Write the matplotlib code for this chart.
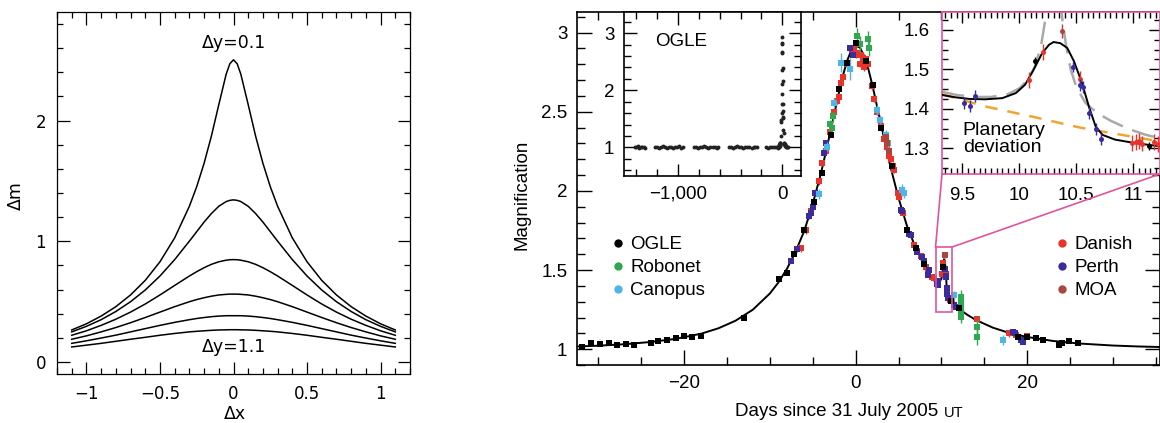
import matplotlib
matplotlib.use('Agg')
import matplotlib.pyplot as plt
from matplotlib.lines import Line2D
from matplotlib.patches import Rectangle, ConnectionPatch
from matplotlib.ticker import MultipleLocator, FuncFormatter

# ---- left panel: magnitude change vs offset, one curve per dy ----
DX = [-1.1, -1.0, -0.9, -0.8, -0.7, -0.6, -0.5, -0.4, -0.3, -0.25, -0.2,
      -0.15, -0.1, -0.05, -0.025, 0, 0.025, 0.05, 0.1, 0.15, 0.2, 0.25, 0.3,
      0.4, 0.5, 0.6, 0.7, 0.8, 0.9, 1.0, 1.1]
DM_Y01 = [0.265, 0.316, 0.380, 0.458, 0.555, 0.676, 0.830, 1.028, 1.290,
          1.453, 1.646, 1.873, 2.132, 2.384, 2.471, 2.504, 2.471, 2.384,
          2.132, 1.873, 1.646, 1.453, 1.290, 1.028, 0.830, 0.676, 0.555,
          0.458, 0.380, 0.316, 0.265]
DM_Y03 = [0.249, 0.295, 0.350, 0.418, 0.499, 0.596, 0.712, 0.848, 1.001,
          1.080, 1.159, 1.230, 1.290, 1.329, 1.339, 1.343, 1.339, 1.329,
          1.290, 1.230, 1.159, 1.080, 1.001, 0.848, 0.712, 0.596, 0.499,
          0.418, 0.350, 0.295, 0.249]
DM_Y05 = [0.221, 0.258, 0.303, 0.354, 0.413, 0.480, 0.555, 0.634, 0.712,
          0.748, 0.781, 0.809, 0.830, 0.843, 0.847, 0.848, 0.847, 0.843,
          0.830, 0.809, 0.781, 0.748, 0.712, 0.634, 0.555, 0.480, 0.413,
          0.354, 0.303, 0.258, 0.221]
DM_Y07 = [0.188, 0.216, 0.249, 0.285, 0.325, 0.368, 0.413, 0.458, 0.499,
          0.517, 0.532, 0.545, 0.555, 0.560, 0.562, 0.562, 0.562, 0.560,
          0.555, 0.545, 0.532, 0.517, 0.499, 0.458, 0.413, 0.368, 0.325,
          0.285, 0.249, 0.216, 0.188]
DM_Y09 = [0.154, 0.175, 0.198, 0.222, 0.249, 0.276, 0.303, 0.328, 0.350,
          0.360, 0.368, 0.375, 0.380, 0.383, 0.383, 0.383, 0.383, 0.383,
          0.380, 0.375, 0.368, 0.360, 0.350, 0.328, 0.303, 0.276, 0.249,
          0.222, 0.198, 0.175, 0.154]
DM_Y11 = [0.124, 0.139, 0.154, 0.171, 0.188, 0.204, 0.221, 0.236, 0.249,
          0.254, 0.258, 0.262, 0.265, 0.266, 0.267, 0.267, 0.267, 0.266,
          0.265, 0.262, 0.258, 0.254, 0.249, 0.236, 0.221, 0.204, 0.188,
          0.171, 0.154, 0.139, 0.124]
DM_CURVES = [DM_Y01, DM_Y03, DM_Y05, DM_Y07, DM_Y09, DM_Y11]

# ---- right panel: light curve ----
MODEL_DAYS = [-33, -30, -27, -24, -21, -18, -16, -14, -12, -10, -9, -8, -7,
              -6, -5, -4, -3, -2, -1.5, -1, -0.5, 0, 0.5, 1, 1.5, 2, 3, 4, 5,
              6, 7, 8, 9, 9.5, 9.8, 10.0, 10.1, 10.2, 10.3, 10.4, 10.5, 10.6,
              10.7, 10.85, 11.0, 12, 13, 14, 16, 18, 20, 23, 26, 30, 33, 36]
MODEL_MAG = [1.016, 1.022, 1.031, 1.045, 1.065, 1.098, 1.132, 1.180, 1.249,
             1.352, 1.422, 1.509, 1.617, 1.746, 1.918, 2.121, 2.359, 2.609,
             2.725, 2.821, 2.888, 2.917, 2.905, 2.852, 2.766, 2.657, 2.409,
             2.166, 1.956, 1.776, 1.641, 1.528, 1.438, 1.426, 1.427, 1.445,
             1.470, 1.530, 1.568, 1.560, 1.500, 1.410, 1.345, 1.320, 1.310,
             1.257, 1.218, 1.185, 1.136, 1.101, 1.077, 1.052, 1.036, 1.023,
             1.017, 1.013]

# planetary model, alternative model and single-lens fit (inset)
PLANET_DAYS = [9.32, 9.44, 9.56, 9.70, 9.85, 9.97, 10.05, 10.125, 10.2,
               10.26, 10.30, 10.36, 10.42, 10.48, 10.55, 10.61, 10.67, 10.73,
               10.84, 11.02, 11.24]
PLANET_MAG = [1.435, 1.429, 1.425, 1.424, 1.427, 1.440, 1.461, 1.499, 1.541,
              1.562, 1.569, 1.566, 1.554, 1.520, 1.465, 1.406, 1.355, 1.334,
              1.322, 1.313, 1.305]
ALT_DAYS = [9.32, 9.45, 9.6, 9.75, 9.9, 10.0, 10.08, 10.14, 10.19, 10.23,
            10.26, 10.29, 10.32, 10.35, 10.38, 10.41, 10.45, 10.5, 10.58,
            10.68, 10.8, 10.95, 11.1, 11.24]
ALT_MAG = [1.443, 1.435, 1.430, 1.430, 1.437, 1.452, 1.475, 1.51, 1.56, 1.63,
           1.72, 1.80, 1.78, 1.69, 1.62, 1.56, 1.50, 1.455, 1.415, 1.39, 1.37,
           1.35, 1.335, 1.325]
SINGLE_DAYS = [9.32, 9.7, 10.1, 10.54, 10.98, 11.24]
SINGLE_MAG = [1.437, 1.406, 1.381, 1.352, 1.330, 1.317]

OGLE_DAYS = [-31.9, -30.9, -29.8, -28.8, -27.8, -26.8, -25.9, -23.9, -23.0,
             -22.0, -21.0, -20.0, -19.1, -18.0, -13.0, -8.9, -8.0, -7.2, -6.0,
             -4.9, -3.9, -2.9, -1.9, -0.97, 0.0, 1.17, 2.06, 3.0, 4.2, 6.0,
             7.0, 8.0, 10.135, 11.135, 12.1, 18.9, 20.0, 21.0, 21.8, 23.7,
             24.1, 24.9, 25.9]
OGLE_MAG = [1.015, 1.036, 1.032, 1.040, 1.025, 1.032, 1.025, 1.040, 1.053,
            1.061, 1.068, 1.082, 1.074, 1.082, 1.200, 1.441, 1.479, 1.600,
            1.753, 1.932, 2.110, 2.354, 2.644, 2.810, 2.935, 2.820, 2.670,
            2.397, 2.154, 1.753, 1.637, 1.540, 1.522, 1.307, 1.258, 1.078,
            1.078, 1.068, 1.061, 1.025, 1.040, 1.050, 1.036]

# OGLE baseline seasons (inset)
BASE_DAYS = [-1410, -1400, -1390, -1375, -1360, -1345, -1330, -1320,
             -1218, -1200, -1185, -1165, -1150, -1130, -1110, -1090, -1070,
             -1050, -1030, -1010, -990, -970, -952,
             -850, -830, -810, -790, -770, -750, -730, -710, -690, -670, -650,
             -630, -615,
             -515, -495, -475, -455, -435, -415, -395, -375, -355, -335, -315,
             -295, -275, -258, -246,
             -160, -140, -120, -100, -80, -60, -45, -35,
             38, 42, 47, 52]
BASE_MAG = [1.01, 1.00, 1.02, 0.99, 1.01, 1.00, 1.01, 0.99,
            1.00, 1.01, 0.99, 1.00, 1.02, 1.00, 0.99, 1.01, 1.00,
            0.99, 1.01, 1.00, 1.02, 0.99, 1.00,
            1.01, 1.00, 0.99, 1.01, 1.00, 1.02, 1.00, 0.99, 1.01, 1.00, 1.00,
            0.99, 1.01,
            1.00, 1.01, 0.99, 1.00, 1.02, 1.00, 1.01, 0.99, 1.00, 1.01, 1.00,
            0.99, 1.00, 1.01, 1.00,
            1.00, 0.99, 1.01, 1.00, 1.00, 1.01, 0.99, 1.00,
            1.01, 1.00, 1.01, 1.00]

DANISH_DAYS = [-6.4, -5.8, -5.2, -4.7, -4.3, -3.9, -3.5, -3.0, -2.5, -2.2,
               -1.95, -1.7, -1.5, -1.0, -0.4, -0.2, 0.0, 0.3, 0.5, 0.6, 0.9,
               1.0, 1.2, 1.4, 1.95, 2.1, 2.5, 2.9, 3.3, 3.6, 3.9, 4.1, 4.3,
               4.5, 4.9, 5.05, 5.5, 6.8, 7.2, 7.6, 8.2, 8.4, 8.95, 9.15, 10.08,
               10.205, 10.535, 10.99, 11.02, 11.05, 11.08, 11.18, 11.22, 14.2,
               17.9, 18.7, 20.0]
DANISH_MAG = [1.637, 1.750, 1.870, 1.985, 2.060, 2.175, 2.250, 2.370, 2.500,
              2.570, 2.590, 2.680, 2.720, 2.800, 2.890, 2.900, 2.860, 2.870,
              2.800, 2.860, 2.840, 2.780, 2.830, 2.800, 2.660, 2.580, 2.500,
              2.410, 2.330, 2.280, 2.220, 2.200, 2.160, 2.130, 1.985, 1.960,
              1.860, 1.660, 1.620, 1.590, 1.520, 1.500, 1.458, 1.447, 1.473,
              1.543, 1.476, 1.313, 1.316, 1.318, 1.312, 1.316, 1.310, 1.190,
              1.099, 1.090, 1.085]

PERTH_DAYS = [-7.5, -6.8, -5.4, -5.25, -5.0, -4.7, -3.7, -3.4, -0.6, -0.3,
              5.25, 5.45, 6.2, 6.4, 7.2, 7.7, 8.0, 8.4, 8.55, 9.51, 9.57, 9.61,
              10.47, 10.53, 10.56, 10.61, 10.67, 10.72, 11.5, 11.7, 12.0, 18.4,
              18.6, 19.25, 19.5]
PERTH_MAG = [1.560, 1.630, 1.840, 1.860, 1.900, 1.985, 2.240, 2.300, 2.900,
             2.860, 1.880, 1.870, 1.730, 1.720, 1.616, 1.580, 1.560, 1.468,
             1.500, 1.414, 1.408, 1.433, 1.507, 1.461, 1.455, 1.389, 1.349,
             1.323, 1.280, 1.268, 1.260, 1.110, 1.100, 1.057, 1.046]

ROBONET_DAYS = [-3.0, -2.8, -2.6, 0.2, 0.5, 1.4, 1.6, 12.25, 12.25, 12.25,
                12.25, 12.25, 14.1, 14.1]
ROBONET_MAG = [2.420, 2.400, 2.470, 2.980, 2.930, 2.960, 2.900, 1.331, 1.289,
               1.258, 1.226, 1.204, 1.141, 1.078]
ROBONET_ERR = [0.03, 0.03, 0.03, 0.05, 0.05, 0.05, 0.05, 0.04, 0.04, 0.04,
               0.04, 0.04, 0.05, 0.05]

CANOPUS_DAYS = [-4.3, -3.3, -2.5, -1.75, -0.6, 2.5, 2.8, 3.5, 3.8, 5.4, 5.6,
                11.5, 17.2]
CANOPUS_MAG = [1.980, 2.280, 2.555, 2.810, 2.770, 2.510, 2.450, 2.355, 2.300,
               2.006, 1.985, 1.340, 1.057]
CANOPUS_ERR = [0.03, 0.03, 0.03, 0.06, 0.07, 0.03, 0.03, 0.03, 0.03, 0.04,
               0.03, 0.03, 0.03]

MOA_DAYS = [3.5, 3.7, 3.9, 10.375]
MOA_MAG = [2.340, 2.300, 2.250, 1.596]

MAGENTA = '#e2539c'
SANS = 'Liberation Sans'
FS = 13.5


def px_rect(left, top, right, bottom, w=1160, h=423):
  """Axes rectangle from pixel edges measured on the reference."""
  return [left / w, 1 - bottom / h, (right - left) / w, (bottom - top) / h]


def draw_left(fig):
  ax = fig.add_axes(px_rect(57, 12, 410, 374))
  for dm in DM_CURVES:
    ax.plot(DX, dm, color='black', lw=1.1)
  ax.set_xlim(-1.2, 1.2)
  ax.set_ylim(-0.1, 2.9)
  ax.xaxis.set_major_locator(MultipleLocator(0.5))
  ax.xaxis.set_minor_locator(MultipleLocator(0.1))
  ax.yaxis.set_major_locator(MultipleLocator(1))
  ax.yaxis.set_minor_locator(MultipleLocator(0.2))
  ax.xaxis.set_major_formatter(FuncFormatter(
      lambda v, _: '0' if abs(v) < 1e-9 else f'{v:g}'.replace('-', '\u2212')))
  ax.tick_params(which='both', direction='in', top=True, right=True,
                 labelsize=12, width=0.9)
  ax.tick_params(which='major', length=9, pad=8)
  ax.tick_params(which='minor', length=4.5)
  for s in ax.spines.values():
    s.set_linewidth(0.9)
  ax.text(0, 2.64, '\u0394y=0.1', ha='center', va='center', fontsize=12.5)
  ax.text(0, 0.125, '\u0394y=1.1', ha='center', va='center', fontsize=12.5)
  fig.text(16 / 1160, 1 - 196 / 423, '\u0394m', rotation=90, ha='center',
           va='center', fontsize=12.5)
  fig.text(235 / 1160, 1 - 414 / 423, '\u0394x', ha='center', va='center',
           fontsize=12.5)


def style_axes(ax, major, minor, pad, spine_color='black'):
  ax.tick_params(which='both', direction='in', top=True, right=True,
                 labelsize=FS, labelfontfamily=SANS, width=1.0)
  ax.tick_params(which='major', length=major, pad=pad)
  ax.tick_params(which='minor', length=minor)
  for s in ax.spines.values():
    s.set_linewidth(1.2)
    s.set_edgecolor(spine_color)


def plot_data(ax, marker, ms, cap):
  sets = [
      (DANISH_DAYS, DANISH_MAG, 0.02, '#e8332b'),
      (PERTH_DAYS, PERTH_MAG, 0.015, '#3a2c9c'),
      (ROBONET_DAYS, ROBONET_MAG, ROBONET_ERR, '#2fa84f'),
      (CANOPUS_DAYS, CANOPUS_MAG, CANOPUS_ERR, '#4db5e8'),
      (MOA_DAYS, MOA_MAG, 0.018, '#a9463d'),
      (OGLE_DAYS, OGLE_MAG, 0.01, 'black'),
  ]
  for i, (d, m, e, c) in enumerate(sets):
    ax.errorbar(d, m, yerr=e, fmt=marker, ms=ms, color=c, ecolor=c,
                elinewidth=1.0, capsize=cap, capthick=1.0, mew=0,
                zorder=3 + i)


def draw_right(fig):
  ax = fig.add_axes(px_rect(577, 12, 1160, 365))
  ax.plot(MODEL_DAYS, MODEL_MAG, color='black', lw=1.4, zorder=2)
  plot_data(ax, 's', 4.4, 1.5)
  ax.set_xlim(-32.5, 35.5)
  ax.set_ylim(0.9, 3.13)
  ax.xaxis.set_major_locator(MultipleLocator(20))
  ax.xaxis.set_minor_locator(MultipleLocator(5))
  ax.yaxis.set_major_locator(MultipleLocator(0.5))
  ax.yaxis.set_minor_locator(MultipleLocator(0.1))
  ax.yaxis.set_major_formatter(FuncFormatter(lambda v, _: f'{v:g}'))
  style_axes(ax, 11, 6, 7)

  # zoom box on the planetary deviation
  x0, x1, y0, y1 = 9.32, 11.235, 1.235, 1.645
  ax.add_patch(Rectangle((x0, y0), x1 - x0, y1 - y0, fill=False,
                         edgecolor=MAGENTA, lw=1.2, zorder=10))

  def legend(labels, colors, xa):
    handles = [Line2D([], [], ls='none', marker='o', ms=6, color=c,
                      mew=0) for c in colors]
    return ax.legend(handles, labels, loc='upper left',
                     bbox_to_anchor=(xa, 0.392), frameon=False, borderpad=0,
                     handlelength=0.6, handletextpad=0.35, labelspacing=0.32,
                     prop={'family': SANS, 'size': FS})

  leg1 = legend(['OGLE', 'Robonet', 'Canopus'],
                ['black', '#2fa84f', '#4db5e8'], 0.045)
  ax.add_artist(leg1)
  legend(['Danish', 'Perth', 'MOA'], ['#e8332b', '#3a2c9c', '#a9463d'],
         0.806)

  fig.text(522 / 1160, 1 - 195 / 423, 'Magnification', rotation=90,
           ha='center', va='center', fontsize=FS, family=SANS)
  t = fig.text(735 / 1160, 1 - 416 / 423, 'Days since 31 July 2005',
               ha='left', va='baseline', fontsize=FS, family=SANS)
  ax.annotate('UT', xy=(1, 0), xycoords=t, xytext=(4, 0),
              textcoords='offset points', va='bottom', ha='left',
              fontsize=FS * 0.78, family=SANS)

  # inset: OGLE baseline
  a1 = fig.add_axes(px_rect(624, 12, 801, 176))
  a1.plot(BASE_DAYS, BASE_MAG, 'o', ms=2.8, color='#222222', mew=0)
  a1.plot(OGLE_DAYS, OGLE_MAG, 'o', ms=2.8, color='#222222', mew=0)
  a1.set_xlim(-1520, 180)
  a1.set_ylim(0.5, 3.37)
  a1.set_xticks([-1000, 0])
  a1.xaxis.set_minor_locator(MultipleLocator(200))
  a1.yaxis.set_major_locator(MultipleLocator(1))
  a1.yaxis.set_minor_locator(MultipleLocator(0.2))
  a1.xaxis.set_major_formatter(FuncFormatter(
      lambda v, _: f'{v:,.0f}'.replace('-', '\u2212')))
  a1.yaxis.set_major_formatter(FuncFormatter(lambda v, _: f'{v:g}'))
  style_axes(a1, 9, 5, 7)
  a1.text(0.32, 0.82, 'OGLE', transform=a1.transAxes, ha='center',
          va='center', fontsize=FS, family=SANS)

  # inset: planetary deviation
  a2 = fig.add_axes(px_rect(942, 12, 1160, 174))
  a2.plot(ALT_DAYS, ALT_MAG, color='#a9a9a9', lw=1.8, dashes=(9, 4),
          zorder=2)
  a2.plot(SINGLE_DAYS, SINGLE_MAG, color='#f2a431', lw=1.8, dashes=(5, 4),
          zorder=2)
  a2.plot(PLANET_DAYS, PLANET_MAG, color='black', lw=1.4, zorder=3)
  plot_data(a2, 'o', 3.6, 1.8)
  a2.set_xlim(x0, x1)
  a2.set_ylim(y0, y1)
  a2.xaxis.set_major_locator(MultipleLocator(0.5))
  a2.xaxis.set_minor_locator(MultipleLocator(0.05))
  a2.yaxis.set_major_locator(MultipleLocator(0.1))
  a2.yaxis.set_minor_locator(MultipleLocator(0.025))
  a2.xaxis.set_major_formatter(FuncFormatter(lambda v, _: f'{v:g}'))
  style_axes(a2, 8, 4.5, 9, spine_color=MAGENTA)
  a2.text(0.095, 0.215, 'Planetary\ndeviation', transform=a2.transAxes,
          ha='left', va='center', fontsize=FS + 0.5, family=SANS,
          linespacing=1.05)

  for xa, xb in ((x0, 0), (x1, 1)):
    con = ConnectionPatch(xyA=(xa, y1), coordsA=ax.transData, xyB=(xb, 0),
                          coordsB=a2.transAxes, color=MAGENTA, lw=1.2)
    fig.add_artist(con)


def main():
  fig = plt.figure(figsize=(11.6, 4.23), dpi=100)
  draw_left(fig)
  draw_right(fig)
  fig.savefig('out.png', dpi=100, facecolor='white')


if __name__ == '__main__':
  main()
